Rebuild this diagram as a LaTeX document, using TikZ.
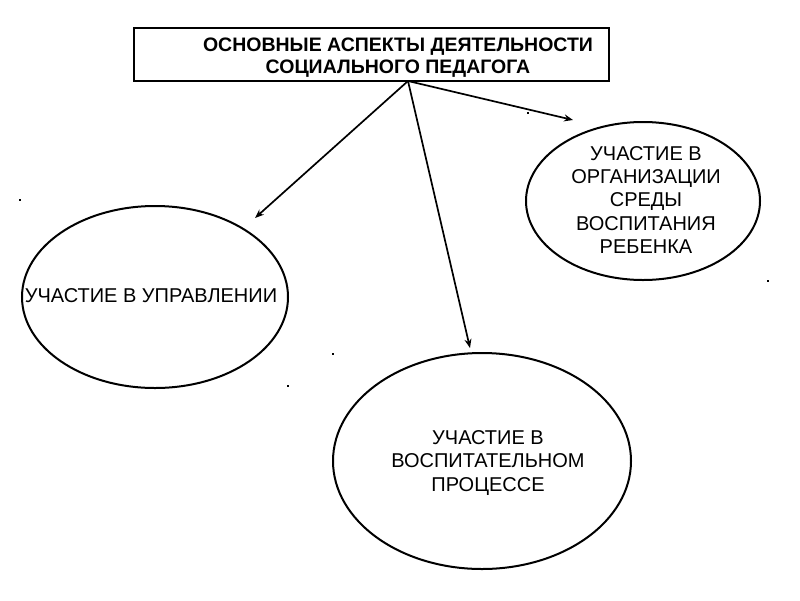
\documentclass[tikz,border=0pt]{standalone}
\usepackage{fontspec}
\setmainfont{Liberation Sans}
\usetikzlibrary{shapes.geometric,arrows.meta}
\begin{document}
\begin{tikzpicture}[x=1pt,y=-1pt,
  oval/.style={draw=black,line width=2pt,ellipse,inner sep=0pt},
  label/.style={align=center,inner sep=0pt,font=\fontsize{20}{23.3}\selectfont},
  arr/.style={draw=black,line width=1.7pt,-{Stealth[length=9pt,width=7pt]}},
  dot/.style={fill=black,inner sep=0pt,minimum size=2.5pt}]
\useasboundingbox[fill=white] (0,0) rectangle (800,600);
\node[draw=black,line width=2.4pt,minimum width=475pt,minimum height=53pt,inner sep=0pt] (box) at (371.5,54.5) {};
\node[align=center,font=\bfseries\fontsize{19.5}{22}\selectfont,inner sep=0pt] (title) at (398,57.5) {ОСНОВНЫЕ АСПЕКТЫ ДЕЯТЕЛЬНОСТИ\\СОЦИАЛЬНОГО ПЕДАГОГА};
\node[oval,minimum width=266pt,minimum height=182pt] (left) at (155,297) {};
\node[oval,minimum width=234pt,minimum height=158pt] (right) at (643,201) {};
\node[oval,minimum width=298pt,minimum height=216pt] (bottom) at (482,461) {};
\node[label] (leftlabel) at (151,296) {УЧАСТИЕ В УПРАВЛЕНИИ};
\node[label] (rightlabel) at (646,200) {УЧАСТИЕ В\\ОРГАНИЗАЦИИ\\СРЕДЫ\\ВОСПИТАНИЯ\\РЕБЕНКА};
\node[label] (bottomlabel) at (488,463) {УЧАСТИЕ В\\ВОСПИТАТЕЛЬНОМ\\ПРОЦЕССЕ};
\coordinate (src) at (408,81);
\coordinate (tipL) at (255,218);
\coordinate (tipB) at (470,348);
\coordinate (tipR) at (573,120);
\draw[arr] (src) -- (tipL);
\draw[arr] (src) -- (tipB);
\draw[arr] (src) -- (tipR);
\node[dot] (d1) at (20,200) {};
\node[dot] (d2) at (768,281) {};
\node[dot] (d3) at (288,386) {};
\node[dot] (d4) at (528,113) {};
\node[dot] (d5) at (333,354) {};
\end{tikzpicture}
\end{document}
